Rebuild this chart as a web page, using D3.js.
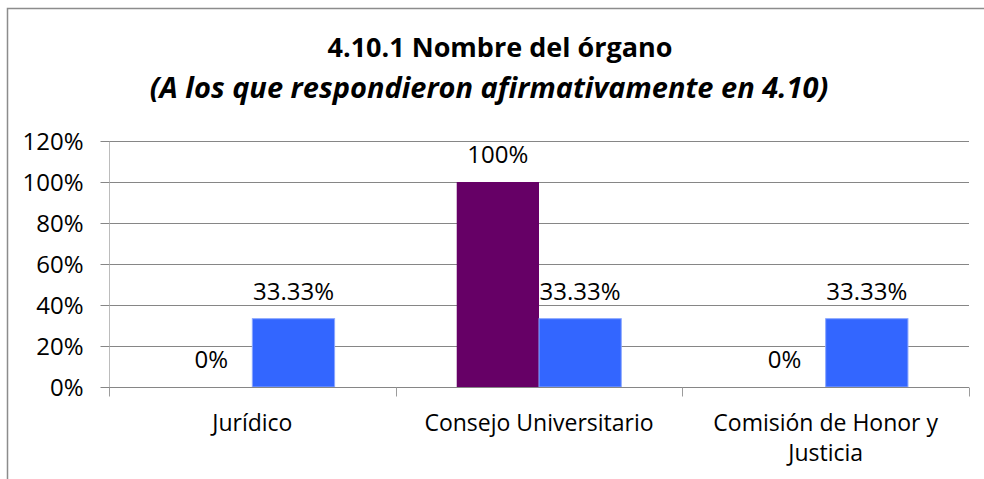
<!DOCTYPE html>
<html>
<head>
<meta charset="utf-8">
<script src="https://cdn.jsdelivr.net/npm/d3@7"></script>
<style>
  body { margin: 0; background: #fff; }
  svg text { font-family: "Open Sans", "Noto Sans", sans-serif; fill: #000; }
</style>
</head>
<body>
<div id="chart"></div>
<script>
// chart data
const categories = ["Jurídico", "Consejo Universitario", "Comisión de Honor y Justicia"];
const seriesNames = ["Serie 1", "Serie 2"];
const serie1 = [0, 1, 0];
const serie2 = [0.3333, 0.3333, 0.3333];
const yTicks = [0, 0.2, 0.4, 0.6, 0.8, 1.0, 1.2];
const colors = ["#660066", "#3366FF"];
const titleLine1 = "4.10.1 Nombre del órgano";
const titleLine2 = "(A los que respondieron afirmativamente en 4.10)";

const width = 984, height = 479;
const margin = {top: 141, right: 15, bottom: 92, left: 109};

const svg = d3.select("#chart")
  .append("svg")
    .attr("width", width)
    .attr("height", height);

// outer frame of the chart
svg.append("rect")
  .attr("x", 7.5).attr("y", 8.5)
  .attr("width", width + 20).attr("height", height + 20)
  .attr("fill", "none")
  .attr("stroke", "#8c8c8c")
  .attr("stroke-width", 1.5);

// title
svg.append("text")
  .attr("x", 500).attr("y", 57)
  .attr("text-anchor", "middle")
  .style("font-size", "27px")
  .style("font-weight", "bold")
  .text(titleLine1);
svg.append("text")
  .attr("x", 489).attr("y", 98)
  .attr("text-anchor", "middle")
  .style("font-size", "29px")
  .style("font-weight", "bold")
  .style("font-style", "italic")
  .text(titleLine2);

const x0 = d3.scaleBand()
  .domain(categories)
  .range([margin.left, width - margin.right])
  .paddingInner(0.426)
  .paddingOuter(0.213);

const x1 = d3.scaleBand()
  .domain(seriesNames)
  .range([0, x0.bandwidth()]);

const y = d3.scaleLinear()
  .domain([0, 1.2])
  .range([height - margin.bottom, margin.top]);

// gridlines
svg.append("g")
  .selectAll("line")
  .data(yTicks.slice(1))
  .enter()
  .append("line")
    .attr("x1", margin.left).attr("x2", width - margin.right)
    .attr("y1", d => Math.round(y(d)) + 0.5)
    .attr("y2", d => Math.round(y(d)) + 0.5)
    .attr("stroke", "#868686");

// y axis
const yAxis = svg.append("g")
  .attr("transform", `translate(${margin.left + 0.5}, 0.5)`)
  .call(d3.axisLeft(y)
    .tickValues(yTicks)
    .tickSize(9)
    .tickPadding(17)
    .tickFormat(d3.format(".0%")));
yAxis.select(".domain").attr("stroke", "#bcbcbc").attr("d", `M0,${margin.top}V${height - margin.bottom}`);
yAxis.selectAll(".tick line").attr("stroke", "#868686");
yAxis.selectAll("text").style("font-size", "24px").attr("fill", "#000").attr("dy", "0.35em");
yAxis.selectAll(".tick").attr("transform", d => `translate(0, ${Math.round(y(d))})`);

// bars
const groups = svg.append("g")
  .selectAll("g")
  .data(categories)
  .enter()
  .append("g")
    .attr("transform", d => `translate(${x0(d)}, 0)`);

const series = [serie1, serie2];
groups.selectAll("rect")
  .data((d, i) => series.map((s, k) => ({name: seriesNames[k], value: s[i], k: k})))
  .enter()
  .append("rect")
    .attr("x", d => x1(d.name))
    .attr("y", d => y(d.value))
    .attr("width", x1.bandwidth())
    .attr("height", d => y(0) - y(d.value))
    .attr("fill", d => colors[d.k])
    .attr("stroke", d => d.k == 1 && d.value > 0 ? "#8aa6ff" : "none")
    .attr("stroke-width", 1);

// data labels
const fmt = v => (Math.round(v * 10000) / 100) + "%";
groups.selectAll("text.lbl")
  .data((d, i) => series.map((s, k) => ({name: seriesNames[k], value: s[i]})))
  .enter()
  .append("text")
    .attr("class", "lbl")
    .attr("x", d => x1(d.name) + x1.bandwidth() / 2)
    .attr("y", d => y(d.value) - 19)
    .attr("text-anchor", "middle")
    .style("font-size", "24px")
    .text(d => fmt(d.value));

// x axis line and separators
const x0base = Math.round(y(0)) + 0.5;
svg.append("line")
  .attr("x1", margin.left).attr("x2", width - margin.right)
  .attr("y1", x0base).attr("y2", x0base)
  .attr("stroke", "#868686");
const step = x0.step();
const bounds = d3.range(categories.length + 1).map(i => x0.range()[0] + i * step);
svg.append("g")
  .selectAll("line")
  .data(bounds)
  .enter()
  .append("line")
    .attr("x1", d => Math.round(d) + 0.5).attr("x2", d => Math.round(d) + 0.5)
    .attr("y1", x0base).attr("y2", x0base + 9)
    .attr("stroke", "#9c9c9c");

// category labels with wrapping
const catLabels = svg.append("g")
  .selectAll("text")
  .data(categories)
  .enter()
  .append("text")
    .attr("x", d => x0(d) + x0.bandwidth() / 2)
    .attr("y", 431)
    .attr("text-anchor", "middle")
    .style("font-size", "23px")
    .text(d => d);

catLabels.each(function(d) {
  const t = d3.select(this);
  const words = d.split(" ");
  const maxW = step - 30;
  if (this.getComputedTextLength() <= maxW) return;
  t.text(null);
  let line = [];
  let tspan = t.append("tspan").attr("x", t.attr("x")).attr("dy", 0);
  for (let w of words) {
    line.push(w);
    tspan.text(line.join(" "));
    if (tspan.node().getComputedTextLength() > maxW && line.length > 1) {
      line.pop();
      tspan.text(line.join(" "));
      line = [w];
      tspan = t.append("tspan").attr("x", t.attr("x")).attr("dy", 30).text(w);
    }
  }
});
</script>
</body>
</html>
